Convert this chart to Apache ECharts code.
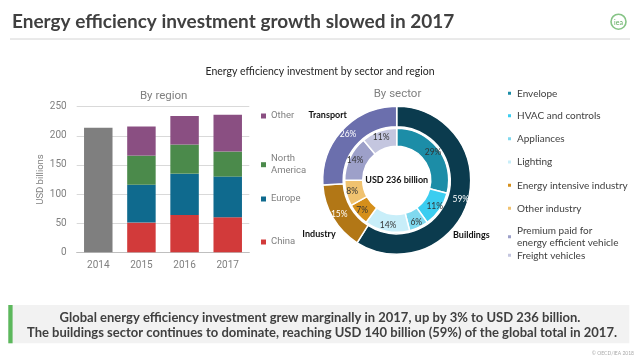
<!DOCTYPE html>
<html><head><meta charset="utf-8">
<script src="https://cdn.jsdelivr.net/npm/echarts@6/dist/echarts.min.js"></script>
<style>html,body{margin:0;padding:0;background:#fff}#c{width:638px;height:359px}</style>
</head><body><div id="c"></div>
<script>
// ---- data ----
const years = ['2014', '2015', '2016', '2017'];
const total2014 = [214, null, null, null];
const china = [null, 51, 64, 60];
const europe = [null, 65, 71, 70];
const northAmerica = [null, 50, 50, 43];
const otherRegion = [null, 50, 49, 63];
const yMin = 0, yMax = 250, yStep = 50;

const sectorNames = ['Buildings', 'Industry', 'Transport'];
const sectorShares = [59, 15, 26];
const subNames = ['Envelope', 'HVAC and controls', 'Appliances', 'Lighting',
  'Energy intensive industry', 'Other industry',
  'Premium paid for energy efficient vehicle', 'Freight vehicles'];
const subShares = [29, 11, 6, 14, 7, 8, 14, 11];
const totalText = 'USD 236 billion';

// ---- styles ----
const narrow = 'Roboto, "Liberation Sans", Arial, sans-serif';
const body = 'Lato, "Open Sans", sans-serif';
const regionColors = { total: '#7f7f7f', china: '#d23a3a', europe: '#0f6a8e', na: '#4b8a4b', other: '#8a4f82' };
const sectorColors = ['#0b3b4e', '#b27716', '#6b6fad'];
const subColors = ['#1c8da7', '#3bcdf0', '#80d9ef', '#c8eef9', '#d58f1b', '#f0c26f', '#9da0c9', '#c4c6df'];

const cx = 396.7, cy = 180.3;

function regionLegend(name, centerY, fmt, pad) {
  return {
    data: [name], left: 261, top: centerY - 6, orient: 'vertical', selectedMode: false,
    icon: 'rect', itemWidth: 5, itemHeight: 5, padding: 0,
    formatter: fmt || undefined,
    textStyle: { fontFamily: narrow, fontSize: 9.5, color: '#808080', lineHeight: 12, padding: pad || 0 }
  };
}
function sectorLegend(name, centerY, fmt, pad) {
  return {
    data: [name], left: 506, top: centerY - 6, orient: 'vertical', selectedMode: false,
    icon: 'rect', itemWidth: 5, itemHeight: 5, padding: 0,
    formatter: fmt || undefined,
    textStyle: { fontFamily: body, fontSize: 10, color: '#404040', lineHeight: 12, padding: pad || 0 }
  };
}

const legendY = [93.3, 115.7, 138.7, 162, 185.3, 208.3, 230.7, 255.3];

const legends = [
  regionLegend('Other', 116),
  regionLegend('North America', 158.7 - 6, 'North\nAmerica', [12, 0, 0, 0]),
  regionLegend('Europe', 199),
  regionLegend('China', 242)
];
subNames.forEach((n, i) => {
  if (i === 6) legends.push(sectorLegend(n, legendY[i] - 6, 'Premium paid for\nenergy efficient vehicle', [12, 0, 0, 0]));
  else legends.push(sectorLegend(n, legendY[i]));
});

const chart = echarts.init(document.getElementById('c'), null, { renderer: 'canvas' });
chart.setOption({
  animation: false,
  backgroundColor: '#fff',
  legend: legends,
  grid: { left: 76.7, top: 106.7, width: 172.6, height: 145.6 },
  xAxis: {
    type: 'category', data: years,
    axisLine: { lineStyle: { color: '#bfbfbf' } }, axisTick: { show: false },
    axisLabel: { fontFamily: narrow, fontSize: 10, color: '#808080', margin: 8 }
  },
  yAxis: {
    type: 'value', min: yMin, max: yMax, interval: yStep,
    name: 'USD billions', nameLocation: 'middle', nameRotate: 90, nameGap: 24,
    nameTextStyle: { fontFamily: narrow, fontSize: 9.5, color: '#808080' },
    axisLine: { show: false }, axisTick: { show: false },
    axisLabel: { fontFamily: narrow, fontSize: 10, color: '#808080', margin: 10 },
    splitLine: { lineStyle: { color: '#d9d9d9', width: 1 } }
  },
  series: [
    { name: 'Total', type: 'bar', stack: 'r', data: total2014, barWidth: '66%', itemStyle: { color: regionColors.total } },
    { name: 'China', type: 'bar', stack: 'r', data: china, itemStyle: { color: regionColors.china } },
    { name: 'Europe', type: 'bar', stack: 'r', data: europe, itemStyle: { color: regionColors.europe } },
    { name: 'North America', type: 'bar', stack: 'r', data: northAmerica, itemStyle: { color: regionColors.na } },
    { name: 'Other', type: 'bar', stack: 'r', data: otherRegion, itemStyle: { color: regionColors.other } },
    {
      name: 'Sub-sector', type: 'pie', center: [cx, cy], radius: [34, 52], startAngle: 90, clockwise: true,
      itemStyle: { borderColor: '#fff', borderWidth: 1.5 },
      label: { position: 'inside', formatter: '{c}%', fontFamily: body, fontSize: 8.5, color: '#333' },
      labelLine: { show: false },
      data: subNames.map((n, i) => ({ name: n, value: subShares[i], itemStyle: { color: subColors[i] } }))
    },
    {
      name: 'Sector', type: 'pie', center: [cx, cy], radius: [53.5, 74], startAngle: 90, clockwise: true,
      itemStyle: { borderColor: '#fff', borderWidth: 1.5 },
      label: { position: 'inside', formatter: '{c}%', fontFamily: body, fontSize: 8.5, color: '#fff' },
      labelLine: { show: false },
      data: sectorNames.map((n, i) => ({ name: n, value: sectorShares[i], itemStyle: { color: sectorColors[i] } }))
    }
  ],
  graphic: [
    { type: 'text', left: 12, top: 12, style: { text: 'Energy efficiency investment growth slowed in 2017', font: 'bold 19px Lato, "Open Sans", sans-serif', fill: '#404040' } },
    { type: 'line', shape: { x1: 10, y1: 39, x2: 630, y2: 39 }, style: { stroke: '#d4d4d4', lineWidth: 1 } },
    { type: 'circle', shape: { cx: 618.5, cy: 21.7, r: 7.5 }, style: { fill: '#fff', stroke: '#86c486', lineWidth: 1.6 } },
    { type: 'text', x: 618.5, y: 22.5, style: { text: 'iea', font: '7px Lato, sans-serif', fill: '#5da95d', align: 'center', verticalAlign: 'middle' } },
    { type: 'text', x: 320, y: 72, style: { text: 'Energy efficiency investment by sector and region', font: '10.5px Lato, "Open Sans", sans-serif', fill: '#262626', align: 'center', verticalAlign: 'middle' } },
    { type: 'text', x: 163.7, y: 95.7, style: { text: 'By region', font: '11.5px ' + narrow, fill: '#808080', align: 'center', verticalAlign: 'middle' } },
    { type: 'text', x: 397.5, y: 94, style: { text: 'By sector', font: '11.5px ' + narrow, fill: '#808080', align: 'center', verticalAlign: 'middle' } },
    { type: 'text', x: cx, y: cy, style: { text: totalText, font: 'bold 9px Lato, sans-serif', fill: '#111', align: 'center', verticalAlign: 'middle' } },
    { type: 'text', x: 327.7, y: 115, style: { text: 'Transport', font: 'bold 9px Lato, sans-serif', fill: '#111', align: 'center', verticalAlign: 'middle' } },
    { type: 'text', x: 319, y: 234, style: { text: 'Industry', font: 'bold 9px Lato, sans-serif', fill: '#111', align: 'center', verticalAlign: 'middle' } },
    { type: 'text', x: 471.3, y: 235.3, style: { text: 'Buildings', font: 'bold 9px Lato, sans-serif', fill: '#111', align: 'center', verticalAlign: 'middle' } },
    { type: 'rect', shape: { x: 8.3, y: 305, width: 621, height: 38.3 }, style: { fill: '#f2f2f2' } },
    { type: 'rect', shape: { x: 8.3, y: 305, width: 4.3, height: 38.3 }, style: { fill: '#5cb85c' } },
    { type: 'text', x: 320, y: 318, style: { text: 'Global energy efficiency investment grew marginally in 2017, up by 3% to USD 236 billion.', font: 'bold 13px Lato, "Open Sans", sans-serif', fill: '#404040', align: 'center', verticalAlign: 'middle' } },
    { type: 'text', x: 322, y: 333.3, style: { text: 'The buildings sector continues to dominate, reaching USD 140 billion (59%) of the global total in 2017.', font: 'bold 13px Lato, "Open Sans", sans-serif', fill: '#404040', align: 'center', verticalAlign: 'middle' } },
    { type: 'text', x: 634, y: 353, style: { text: '© OECD/IEA 2018', font: '5px Lato, sans-serif', fill: '#aaaaaa', align: 'right', verticalAlign: 'middle' } }
  ]
});
</script></body></html>
